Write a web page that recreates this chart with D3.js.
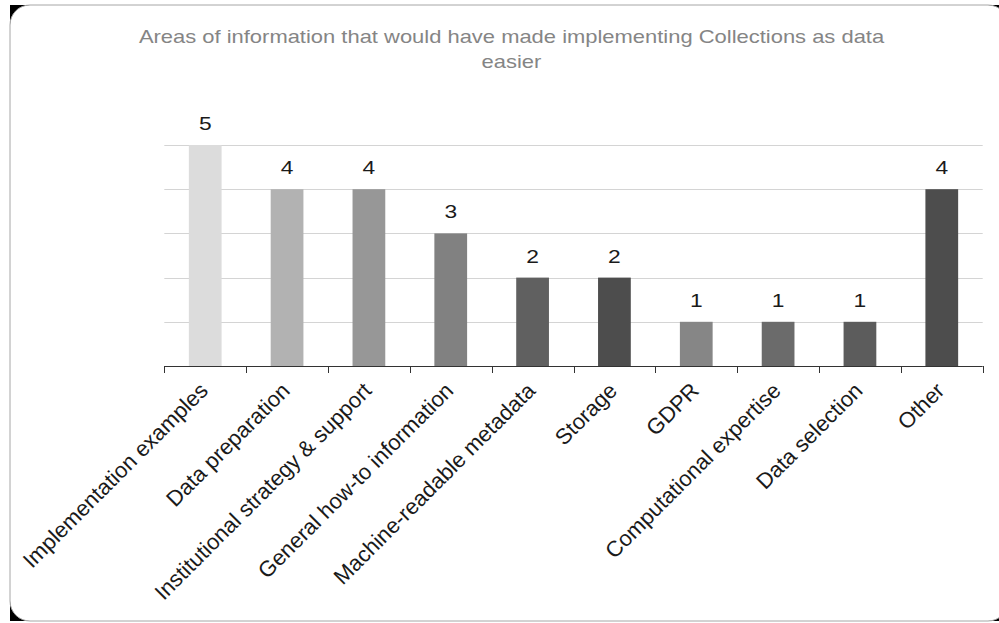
<!DOCTYPE html>
<html>
<head>
<meta charset="utf-8">
<script src="https://cdn.jsdelivr.net/npm/d3@7"></script>
<style>
  html, body { margin: 0; padding: 0; background: #ffffff; }
  svg { display: block; font-family: "Liberation Sans", Arial, sans-serif; }
</style>
</head>
<body>
<svg id="chart" width="999" height="623"></svg>
<script>
// ---- data ----
const titleLines = ["Areas of information that would have made implementing Collections as data", "easier"];
const categories = [
  "Implementation examples",
  "Data preparation",
  "Institutional strategy & support",
  "General how-to information",
  "Machine-readable metadata",
  "Storage",
  "GDPR",
  "Computational expertise",
  "Data selection",
  "Other"
];
const values = [5, 4, 4, 3, 2, 2, 1, 1, 1, 4];
const barColors = ["#dcdcdc", "#b2b2b2", "#979797", "#818181", "#606060", "#4d4d4d", "#868686", "#6b6b6b", "#5c5c5c", "#4d4d4d"];
const gridTicks = [1, 2, 3, 4, 5];

// ---- layout ----
const svg = d3.select("#chart");
const plot = { left: 164.3, right: 982.7, top: 145, bottom: 366 };

// frame: black corners behind a white rounded panel
svg.append("rect").attr("x", 10).attr("y", 5).attr("width", 998).attr("height", 616).attr("fill", "#000");
svg.append("rect").attr("x", 10).attr("y", 5).attr("width", 998).attr("height", 616)
  .attr("rx", 20).attr("ry", 20)
  .attr("fill", "#fff").attr("stroke", "#a6a6a6").attr("stroke-width", 1);

// scales
const x = d3.scaleBand().domain(categories).range([plot.left, plot.right])
  .paddingInner(0.6).paddingOuter(0.3);
const y = d3.scaleLinear().domain([0, 5]).range([plot.bottom, plot.top]);

// gridlines
svg.append("g").selectAll("line").data(gridTicks).join("line")
  .attr("x1", plot.left).attr("x2", plot.right)
  .attr("y1", d => Math.round(y(d)) + 0.5).attr("y2", d => Math.round(y(d)) + 0.5)
  .attr("stroke", "#d4d4d4").attr("stroke-width", 1.2);

// bars
svg.append("g").selectAll("rect").data(categories).join("rect")
  .attr("x", d => x(d))
  .attr("y", (d, i) => y(values[i]))
  .attr("width", x.bandwidth())
  .attr("height", (d, i) => y(0) - y(values[i]))
  .attr("fill", (d, i) => barColors[i]);

// x axis with tick marks at category boundaries
const bounds = d3.scaleLinear().domain([0, categories.length]).range([plot.left, plot.right]);
const axisG = svg.append("g");
axisG.append("line")
  .attr("x1", plot.left).attr("x2", plot.right)
  .attr("y1", Math.round(y(0)) + 0.5).attr("y2", Math.round(y(0)) + 0.5)
  .attr("stroke", "#333").attr("stroke-width", 1);
axisG.selectAll("line.tick").data(d3.range(categories.length + 1)).join("line")
  .attr("class", "tick")
  .attr("x1", d => Math.round(bounds(d)) + 0.5).attr("x2", d => Math.round(bounds(d)) + 0.5)
  .attr("y1", Math.round(y(0))).attr("y2", Math.round(y(0)) + 7)
  .attr("stroke", "#333").attr("stroke-width", 1);

// value labels
svg.append("g").selectAll("text").data(categories).join("text")
  .attr("transform", (d, i) => `translate(${x(d) + x.bandwidth() / 2},${y(values[i]) - 15}) scale(1.2,1)`)
  .attr("text-anchor", "middle")
  .attr("font-size", 19)
  .attr("fill", "#1a1a1a")
  .text((d, i) => values[i]);

// category labels, rotated
svg.append("g").selectAll("text").data(categories).join("text")
  .attr("transform", d => `translate(${x(d) + x.bandwidth() / 2 + 4},${plot.bottom + 26}) rotate(-45)`)
  .attr("text-anchor", "end")
  .attr("font-size", 22)
  .attr("fill", "#1a1a1a")
  .text(d => d);

// title
const titleG = svg.append("g");
titleLines.forEach((t, i) => {
  titleG.append("text")
    .attr("transform", `translate(511.5,${43 + i * 25}) scale(1.22,1)`)
    .attr("text-anchor", "middle")
    .attr("font-size", 18)
    .attr("fill", "#858585")
    .text(t);
});
</script>
</body>
</html>
